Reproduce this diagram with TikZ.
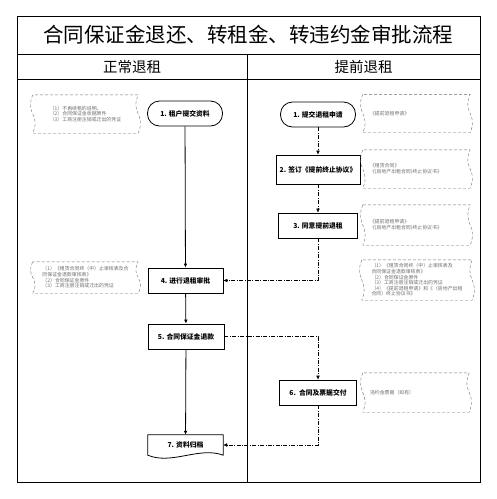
\documentclass[tikz,border=0pt]{standalone}
\usepackage{fontspec}
\setmainfont{Noto Sans CJK SC}
\usepackage{tikz}
\usetikzlibrary{arrows.meta,calc}
\definecolor{notegray}{RGB}{110,110,110}

% wavy sided note border round a named node
\newcommand\wavyside[1]{\draw[notebd] (#1.north west) .. controls ($(#1.west)+(-8,0)$) and ($(#1.west)+(8,0)$) .. (#1.south west) -- (#1.south east) .. controls ($(#1.east)+(8,0)$) and ($(#1.east)+(-8,0)$) .. (#1.north east) -- cycle;}

\begin{document}
\begin{tikzpicture}[x=1pt,y=-1pt,>={Latex[length=4pt,width=3.6pt]},every node/.style={font=\fontsize{6.8}{8}\selectfont\bfseries}]
\tikzstyle{stad}=[draw,thick,rounded corners=12pt,minimum width=75pt,minimum height=25pt,align=center]
\tikzstyle{box}=[draw,thick,minimum width=77pt,minimum height=25pt,align=center]
\tikzstyle{note}=[minimum height=38pt,inner xsep=7pt,align=left,text=notegray,font=\fontsize{4.9}{5.6}\selectfont]
\tikzstyle{notebd}=[draw=notegray,densely dashed,thin]
\tikzstyle{dd}=[->,dash pattern=on 4pt off 1.5pt on 0.8pt off 1.5pt]
\useasboundingbox (0,0) rectangle (497,499);
% frame
\draw[thick] (17,16) rectangle (480,482);
\draw[thick] (17,54) -- (480,54) (17,79) -- (480,79) (247,54) -- (247,482);
\node[font=\fontsize{20.5}{24}\selectfont] (title) at (248.5,35) {合同保证金退还、转租金、转违约金审批流程};
\node[font=\fontsize{14.5}{17}\selectfont\mdseries] (hl) at (132,66.5) {正常退租};
\node[font=\fontsize{14.5}{17}\selectfont\mdseries] (hr) at (363.5,66.5) {提前退租};
% flow
\node[stad] (z1) at (185,113.5) {1. 租户提交资料};
\node[stad] (t1) at (318,114.5) {1. 提交退租申请};
\node[box,minimum width=84pt,minimum height=29pt] (t2) at (318,169.5) {2. 签订《提前终止协议》};
\node[box,minimum width=79pt] (t3) at (318,225.5) {3. 同意提前退租};
\node[box,minimum width=75pt] (z4) at (185.5,280.5) {4. 进行退租审批};
\node[box,minimum width=76pt] (z5) at (186,336.5) {5. 合同保证金退款};
\node[box] (t6) at (318,392.5) {6.\ \ 合同及票据交付};
\node[minimum width=75pt,minimum height=20pt] (z7) at (185.5,445) {7. 资料归档};
\draw[thick] (z7.north west) -- (z7.north east) -- (z7.south east) .. controls ($(z7.south)+(14,-9)$) and ($(z7.south)+(-14,10)$) .. (z7.south west) -- cycle;
% notes
\node[note,minimum width=105pt] (za) at (85.5,114) {（1）不再续租的说明。\\（2）合同保证金收据原件\\（3）工商注册注销或迁出的凭证};
\node[note,minimum width=107pt,text width=93pt,inner xsep=6pt] (ta) at (416.5,113.5) {《提前退租申请》};
\node[note,minimum width=107pt,text width=93pt,inner xsep=6pt] (tb) at (416.5,169) {《租赁合同》\\《(房地产出租合同)终止协议书》};
\node[note,minimum width=107pt,minimum height=40pt,text width=93pt,inner xsep=6pt] (tc) at (416.5,225) {《提前退租申请》\\《(房地产出租合同)终止协议书》};
\node[note,minimum width=105pt,minimum height=31pt] (zb) at (85.5,277.5) {（1）《租赁合同终（中）止审核表及合\\同保证金退款审核表》\\（2）合同保证金原件\\（3）工商注册注销或迁出的凭证};
\node[note,minimum width=110pt,minimum height=40pt,inner xsep=6pt] (td) at (417,280) {（1）《租赁合同终（中）止审核表及\\合同保证金退款审核表》\\（2）合同保证金原件\\（3）工商注册注销或迁出的凭证\\（4）《提前退租申请》和《（房地产出租\\合同）终止协议书》};
\node[note,minimum width=106pt,minimum height=39pt,text width=92pt,inner xsep=7pt] (te) at (416,392.5) {违约金票据（如有）};
\wavyside{za}\wavyside{ta}\wavyside{tb}\wavyside{tc}\wavyside{zb}\wavyside{td}\wavyside{te}
% connectors
\draw[->,thick] (z1)--(z4);\draw[->,thick] (z4)--(z5);\draw[->,thick] (z5)--(z7);
\draw[dd] (t1)--(t2);\draw[dd] (t2)--(t3);
\draw[dd] (t3) |- (z4);
\draw[dd] (z5) -| (t6);
\draw[dd] (t6) |- (z7);
\end{tikzpicture}
\end{document}
